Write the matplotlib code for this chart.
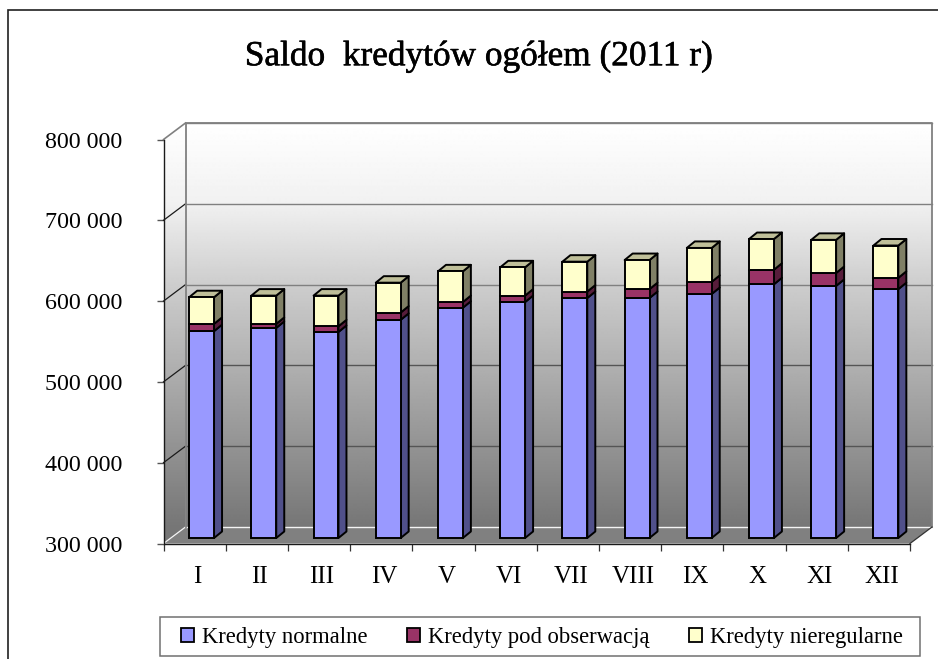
import numpy as np
import matplotlib
matplotlib.use("Agg")
import matplotlib.pyplot as plt
from matplotlib.patches import Polygon, Rectangle, Patch
from matplotlib.transforms import IdentityTransform, Affine2D
import matplotlib.patheffects as pe

months = ["I", "II", "III", "IV", "V", "VI", "VII", "VIII", "IX", "X", "XI", "XII"]
normalne = [556000, 560000, 555000, 570000, 585000, 592000, 597000, 597000, 602000, 614000, 612000, 608000]
pod_obserwacja = [9000, 5000, 7000, 9000, 7000, 8000, 8000, 11000, 15000, 18000, 16000, 14000]
nieregularne = [33000, 35000, 38000, 37000, 38000, 35000, 37000, 36000, 42000, 38000, 41000, 40000]
series_names = ["Kredyty normalne", "Kredyty pod obserwacją", "Kredyty nieregularne"]
y_ticks = [300000, 400000, 500000, 600000, 700000, 800000]
title = "Saldo  kredytów ogółem (2011 r)"

front = ["#9999FF", "#993366", "#FFFFCC"]
side = ["#50508A", "#571D3B", "#808066"]
top_col = "#BFBF99"

W, H = 938, 659
plt.rcParams["font.family"] = ["Liberation Serif", "DejaVu Serif"]
fig = plt.figure(figsize=(W / 100, H / 100), dpi=100, facecolor="white")

def px_rect(x0, ytop, x1, ybot):
    return [x0 / W, 1 - ybot / H, (x1 - x0) / W, (ybot - ytop) / H]

# outer frame: only left and top edges fall inside the picture
fig.add_artist(Rectangle((8 / W, -0.02), 1.0, 1.02 - 10 / H, transform=fig.transFigure,
                         fill=False, ec="#202020", lw=1.2))

ax = fig.add_axes(px_rect(163.5, 139.5, 910, 543.5))
ax.set_xlim(0, 12)
ax.set_ylim(300000, 800000)
ax.patch.set_visible(False)
for s in ("top", "right"):
    ax.spines[s].set_visible(False)
for s in ("left", "bottom"):
    ax.spines[s].set_color("#1a1a1a")
    ax.spines[s].set_linewidth(1.0)
    ax.spines[s].set_zorder(2.5)

ax.set_yticks(y_ticks)
ax.set_yticklabels([f"{v:,}".replace(",", " ") for v in y_ticks], fontsize=17.3)
ax.tick_params(axis="y", length=4.7, width=1.0, color="#555555", pad=25)
ax.set_xticks(np.arange(13))
ax.set_xticklabels([])
ax.tick_params(axis="x", which="major", length=5, width=0.9, color="#333333")
ax.set_xticks(np.arange(12) + 0.5, minor=True)
ax.set_xticklabels(months, minor=True, fontsize=18)
ax.tick_params(axis="x", which="minor", length=0, pad=16)
for lab in ax.get_xticklabels(minor=True):
    lab.set_transform(lab.get_transform() + Affine2D().translate(3, 0))

WALL_DX, WALL_DY = 22, 16.5     # depth of the walls in pixels
BAR_DX, BAR_DY = 7, 5.5         # bars stand this far behind the front edge
SIDE_DX, SIDE_DY = 8, 6.5       # depth of each bar in pixels
BAR_W = 0.4
BLACK_LW = 1.4

fig.canvas.draw()
def d(x, y, dx=0.0, dy=0.0):
    p = ax.transData.transform((x, y))
    return (p[0] + dx, p[1] + dy)

identity = IdentityTransform()

# wall gradient (grey levels by pixel row)
stops_y = [123, 203, 285, 527]
stops_v = [255, 241, 205, 118]
rows = np.arange(100, 560)
grey = np.interp(rows, stops_y, stops_v) / 255
grad = np.repeat(grey[:, None], 2, axis=1)
extent_back = (d(0, 0)[0], d(12, 0)[0] + WALL_DX, H - rows[-1], H - rows[0])

back_poly = [d(0, 300000, WALL_DX, WALL_DY), d(12, 300000, WALL_DX, WALL_DY),
             d(12, 800000, WALL_DX, WALL_DY), d(0, 800000, WALL_DX, WALL_DY)]
left_poly = [d(0, 300000), d(0, 300000, WALL_DX, WALL_DY),
             d(0, 800000, WALL_DX, WALL_DY), d(0, 800000)]
floor_poly = [d(0, 300000), d(12, 300000), d(12, 300000, WALL_DX, WALL_DY), d(0, 300000, WALL_DX, WALL_DY)]

for poly, z in ((back_poly, 1), (left_poly, 1)):
    im = ax.imshow(grad, extent=extent_back, origin="upper", cmap="gray", vmin=0, vmax=1,
                   aspect="auto", transform=identity, zorder=z, interpolation="bilinear")
    im.set_clip_box(fig.bbox)
    im.set_clip_path(Polygon(poly, closed=True, transform=identity))
ax.set_xlim(0, 12)
ax.set_ylim(300000, 800000)

ax.add_patch(Polygon(floor_poly, closed=True, transform=identity, fc="#808080", ec="none", zorder=1.5, clip_on=False))

# gridlines on the back wall and slants on the left wall
for v in y_ticks:
    if v >= 600000:
        c_back = "#808080"
    elif v >= 400000:
        c_back = "#555555"
    else:
        c_back = "#f4f4f4"
    c_slant = "#808080" if v == 800000 else ("#f4f4f4" if v == 300000 else "#1a1a1a")
    ax.plot([d(0, v)[0], d(0, v, WALL_DX)[0]], [d(0, v)[1], d(0, v, 0, WALL_DY)[1]],
            color=c_slant, lw=0.9 if v < 800000 else 1.2, transform=identity, zorder=2.05, clip_on=False)
    ax.plot([d(0, v, WALL_DX)[0], d(12, v, WALL_DX)[0]], [d(0, v, 0, WALL_DY)[1], d(12, v, 0, WALL_DY)[1]],
            color=c_back, lw=1.0, transform=identity, zorder=2, clip_on=False)
# wall edges
ax.plot([d(0, 300000, WALL_DX)[0], d(0, 800000, WALL_DX)[0], d(12, 800000, WALL_DX)[0], d(12, 300000, WALL_DX)[0]],
        [d(0, 300000, 0, WALL_DY)[1], d(0, 800000, 0, WALL_DY)[1], d(12, 800000, 0, WALL_DY)[1], d(12, 300000, 0, WALL_DY)[1]],
        color="#808080", lw=1.3, transform=identity, zorder=2.1, clip_on=False)
ax.plot([d(12, 300000)[0], d(12, 300000, WALL_DX)[0]], [d(12, 300000)[1], d(12, 300000, 0, WALL_DY)[1]],
        color="#333333", lw=0.9, transform=identity, zorder=2.1, clip_on=False)

# stacked bars
stack = [np.array(normalne), np.array(pod_obserwacja), np.array(nieregularne)]
bottoms = np.zeros(12) + 300000
offset = Affine2D().translate(BAR_DX, BAR_DY)
for k, vals in enumerate(stack):
    tops = bottoms + (vals if k else vals - 300000)
    for i in range(12):
        xl, xr = i + 0.5 - BAR_W / 2, i + 0.5 + BAR_W / 2
        ox, oy = BAR_DX, BAR_DY
        sd = [d(xr, bottoms[i], ox, oy), d(xr, tops[i], ox, oy),
              d(xr, tops[i], ox + SIDE_DX, oy + SIDE_DY), d(xr, bottoms[i], ox + SIDE_DX, oy + SIDE_DY)]
        ax.add_patch(Polygon(sd, closed=True, transform=identity, fc=side[k], ec="black", lw=BLACK_LW,
                             zorder=3 + k, clip_on=False, joinstyle="round"))
        if k == 2:
            tp = [d(xl, tops[i], ox, oy), d(xr, tops[i], ox, oy),
                  d(xr, tops[i], ox + SIDE_DX, oy + SIDE_DY), d(xl, tops[i], ox + SIDE_DX, oy + SIDE_DY)]
            ax.add_patch(Polygon(tp, closed=True, transform=identity, fc=top_col, ec="black", lw=BLACK_LW,
                                 zorder=3 + k, clip_on=False, joinstyle="round"))
    ax.bar(np.arange(12) + 0.5, tops - bottoms, bottom=bottoms, width=BAR_W, color=front[k], edgecolor="black",
           linewidth=BLACK_LW, transform=ax.transData + offset, zorder=3.5 + k, clip_on=False)
    bottoms = tops

ax.set_xlim(0, 12)
ax.set_ylim(300000, 800000)

# title
fig.text(479 / W, 1 - 56.5 / H, title, ha="center", va="center", fontsize=25.4, color="black",
         path_effects=[pe.withStroke(linewidth=0.4, foreground="black")])

# legend: frame drawn apart so the entries can have their own side margins
fig.add_artist(Rectangle((160 / W, 1 - 655.5 / H), (920 - 160) / W, (655.5 - 617) / H,
                         transform=fig.transFigure, fc="white", ec="#707070", lw=1.1))
handles = [Patch(fc=c, ec="black", lw=1.3) for c in front]
leg = fig.legend(handles, series_names, ncols=3, mode="expand", loc="center left",
                 bbox_to_anchor=(181 / W, 1 - 657 / H, (903 - 181) / W, (657 - 618) / H),
                 frameon=False, fontsize=16.3,
                 handlelength=0.57, handleheight=0.55, handletextpad=0.36, borderpad=0, borderaxespad=0,
                 labelspacing=0, columnspacing=0)
leg.set_zorder(5)

fig.savefig("out.png", dpi=100)
